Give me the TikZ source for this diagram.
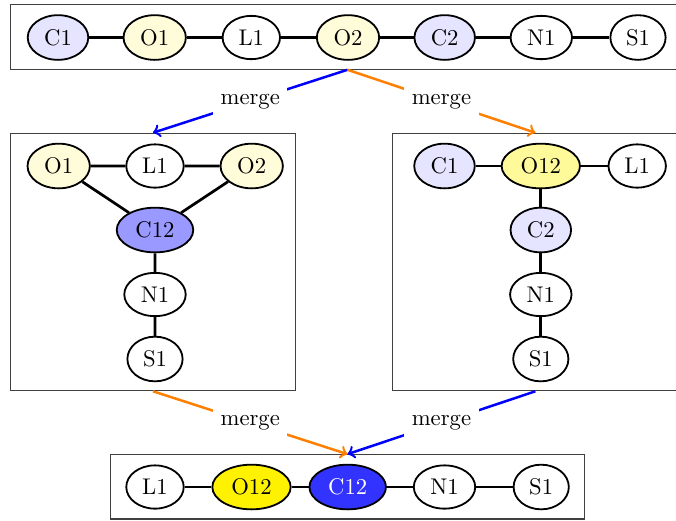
\documentclass[tikz,border=0pt]{standalone}
\usetikzlibrary{shapes.geometric,fit}
\begin{document}
\begin{tikzpicture}[x=0.015504cm, y=-0.015504cm,
  atom/.style={ellipse, draw=black, line width=0.8pt, fill=white},
  cpale/.style={atom, fill=blue!10},
  opale/.style={atom, fill=yellow!15},
  omid/.style={atom, fill=yellow!40},
  cmid/.style={atom, fill=blue!40},
  ofull/.style={atom, fill=yellow},
  cfull/.style={atom, fill=blue!80, text=white},
  bond/.style={line width=1.2pt},
  frame/.style={draw=black!75, line width=0.5pt, inner sep=0pt},
  mergeline/.style={->, line width=1.1pt},
  mergelabel/.style={fill=white, text=black}]

\useasboundingbox (0,0) rectangle (676,520);
\clip (0,0) rectangle (676,520);

% ---- original chain ----
\node[frame, fit={(10.3,4.5) (684.7,69.2)}] (top) {};
\node[cpale] (tc1) at (58,37.5) {C1};
\node[opale] (to1) at (154.7,37.5) {O1};
\node[atom]  (tl1) at (251.3,37.5) {L1};
\node[opale] (to2) at (348,37.5) {O2};
\node[cpale] (tc2) at (444.7,37.5) {C2};
\node[atom]  (tn1) at (541.3,37.5) {N1};
\node[atom]  (ts1) at (638,37.5) {S1};
\draw[bond] (tc1) -- (to1) (to1) -- (tl1) (tl1) -- (to2) (to2) -- (tc2)
            (tc2) -- (tn1) (tn1) -- (ts1);

% ---- carbons merged ----
\node[frame, fit={(10.3,133.3) (295.7,390.7)}] (left) {};
\node[opale] (lo1) at (58.7,166) {O1};
\node[atom]  (ll1) at (155,166) {L1};
\node[opale] (lo2) at (251.7,166) {O2};
\node[cmid]  (lc12) at (155,230) {C12};
\node[atom]  (ln1) at (155,294.5) {N1};
\node[atom]  (ls1) at (155,359) {S1};
\draw[bond] (lo1) -- (ll1) (ll1) -- (lo2) (lo1) -- (lc12) (lo2) -- (lc12)
            (lc12) -- (ln1) (ln1) -- (ls1);

% ---- oxygens merged ----
\node[frame, fit={(392.7,133.3) (678.1,390.7)}] (right) {};
\node[cpale] (rc1) at (444.5,166) {C1};
\node[omid]  (ro12) at (540.8,166) {O12};
\node[atom]  (rl1) at (637.2,166) {L1};
\node[cpale] (rc2) at (540.8,230) {C2};
\node[atom]  (rn1) at (540.8,294.5) {N1};
\node[atom]  (rs1) at (540.8,359) {S1};
\draw[bond] (rc1) -- (ro12) (ro12) -- (rl1) (ro12) -- (rc2)
            (rc2) -- (rn1) (rn1) -- (rs1);

% ---- fully merged chain ----
\node[frame, fit={(110.3,454.7) (584.7,519)}] (bottom) {};
\node[atom]  (bl1) at (155,487) {L1};
\node[ofull] (bo12) at (251.5,487) {O12};
\node[cfull] (bc12) at (347.7,487) {C12};
\node[atom]  (bn1) at (444.5,487) {N1};
\node[atom]  (bs1) at (541.2,487) {S1};
\draw[bond] (bl1) -- (bo12) (bo12) -- (bc12) (bc12) -- (bn1) (bn1) -- (bs1);

% ---- merge steps ----
\draw[mergeline, blue]   (top.south) -- node[mergelabel] {merge} (left.north);
\draw[mergeline, orange] (top.south) -- node[mergelabel] {merge} (right.north);
\draw[mergeline, orange] (left.south) -- node[mergelabel] {merge} (bottom.north);
\draw[mergeline, blue]   (right.south) -- node[mergelabel] {merge} (bottom.north);
\end{tikzpicture}
\end{document}
